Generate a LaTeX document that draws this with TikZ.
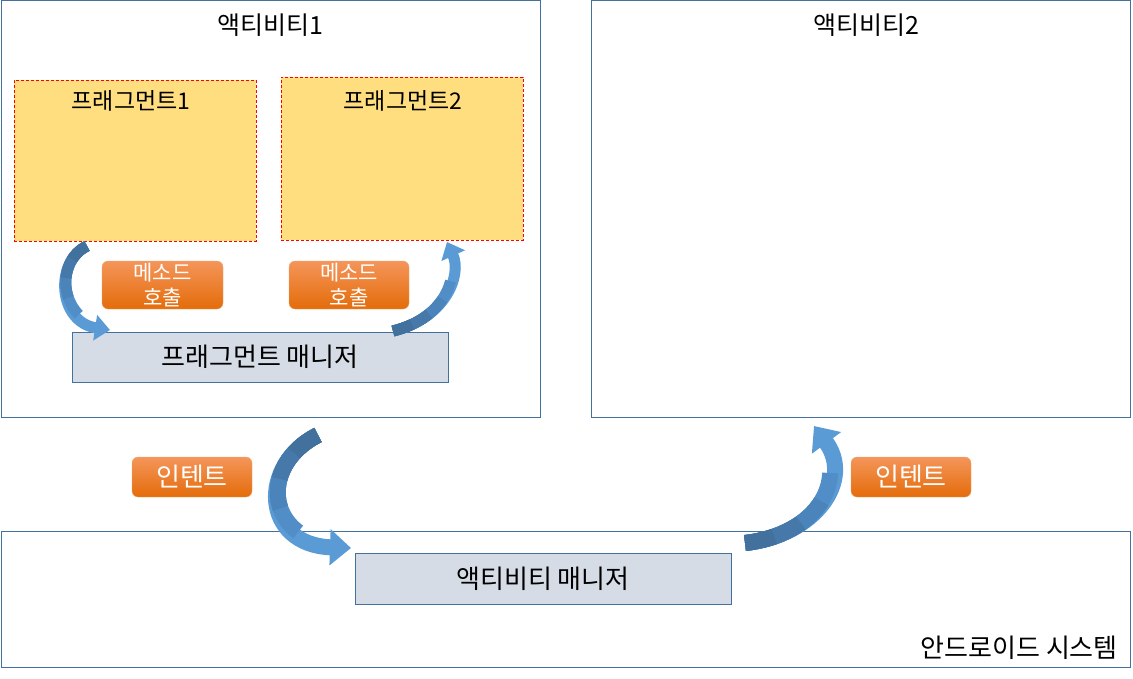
\documentclass[tikz,border=0pt]{standalone}
\usepackage{fontspec}
\setmainfont{Noto Sans CJK KR}
\usetikzlibrary{arrows.meta}
\definecolor{bordblue}{HTML}{41719C}
\definecolor{fragfill}{HTML}{FFDE80}
\definecolor{mgrfill}{HTML}{D6DCE5}
\definecolor{orTop}{HTML}{F4955A}
\definecolor{orBot}{HTML}{E46C0A}
\definecolor{arrA}{HTML}{41719C}
\definecolor{arrB}{HTML}{4679AA}
\definecolor{arrC}{HTML}{4B84BA}
\definecolor{arrD}{HTML}{518EC7}
\definecolor{arrE}{HTML}{5B9BD5}
\newcommand\fs[2]{\fontsize{#1}{#2}\selectfont}
\newcommand\barrow[8]{%
  \draw[line width=#5, arrE, -{Triangle[width=#6,length=#7]}] (#1) .. controls #2 and #3 .. (#4);
  \draw[line width=#5, arrD, dash pattern=on 0.8*#8 off 2000pt] (#1) .. controls #2 and #3 .. (#4);
  \draw[line width=#5, arrC, dash pattern=on 0.6*#8 off 2000pt] (#1) .. controls #2 and #3 .. (#4);
  \draw[line width=#5, arrB, dash pattern=on 0.4*#8 off 2000pt] (#1) .. controls #2 and #3 .. (#4);
  \draw[line width=#5, arrA, dash pattern=on 0.2*#8 off 2000pt] (#1) .. controls #2 and #3 .. (#4);
}
\tikzset{
  bigbox/.style={draw=bordblue, line width=0.9pt, fill=white, inner sep=0pt},
  fragbox/.style={draw=red, dash pattern=on 3pt off 2pt, line width=0.9pt, fill=fragfill, inner sep=0pt},
  mgrbox/.style={draw=bordblue, line width=0.9pt, fill=mgrfill, inner sep=0pt, font=\fs{26}{30}},
  orbox/.style={rounded corners=6pt, top color=orTop, bottom color=orBot, draw=orBot!60, line width=0.3pt, text=white, inner sep=0pt, align=center},
  ttl/.style={inner sep=0pt, font=\fs{25}{30}},
}
\begin{document}
\begin{tikzpicture}[x=1pt,y=-1pt]
\useasboundingbox (0,0) rectangle (1133,678);
% big containers
\node[bigbox, minimum width=539pt, minimum height=417pt] (act1) at (270.5,209) {};
\node[bigbox, minimum width=539pt, minimum height=417pt] (act2) at (860.5,209) {};
\node[bigbox, minimum width=1129pt, minimum height=136pt] (sys) at (565.5,599.5) {};
\node[ttl] (t1) at (270,25) {액티비티1};
\node[ttl] (t2) at (866,25) {액티비티2};
\node[ttl, anchor=east, font=\fs{26}{30}] (tsys) at (1118,648) {안드로이드 시스템};
% fragments
\node[fragbox, minimum width=242pt, minimum height=161pt] (frag1) at (135,160.5) {};
\node[fragbox, minimum width=242pt, minimum height=163pt] (frag2) at (402,158.5) {};
\node[ttl, font=\fs{23}{28}] (f1t) at (131,101) {프래그먼트1};
\node[ttl, font=\fs{23}{28}] (f2t) at (403,101) {프래그먼트2};
% managers
\node[mgrbox, minimum width=376pt, minimum height=50pt] (fmgr) at (260,357) {프래그먼트 매니저};
\node[mgrbox, minimum width=376pt, minimum height=51pt] (amgr) at (543,578.5) {액티비티 매니저};
% orange labels
\node[orbox, minimum width=121pt, minimum height=48pt, font=\fs{21}{25}] (call1) at (162.5,285) {메소드\\호출};
\node[orbox, minimum width=120pt, minimum height=48pt, font=\fs{21}{25}] (call2) at (349,285) {메소드\\호출};
\node[orbox, minimum width=120pt, minimum height=40pt, font=\fs{26}{30}] (int1) at (192,477) {인텐트};
\node[orbox, minimum width=120pt, minimum height=40pt, font=\fs{26}{30}] (int2) at (911,477) {인텐트};
% arrow endpoints
\coordinate (a1s) at (87,246);
\coordinate (a1e) at (110,330);
\coordinate (a2s) at (393,331);
\coordinate (a2e) at (447,242);
\coordinate (a3s) at (318,435);
\coordinate (a3e) at (351,548);
\coordinate (a4s) at (745,543);
\coordinate (a4e) at (814,426);
% curved block arrows
\barrow{a1s}{(54,262)}{(58,322)}{a1e}{11pt}{25pt}{15pt}{100pt}
\barrow{a2s}{(446,318)}{(462,275)}{a2e}{11pt}{25pt}{15pt}{100pt}
\barrow{a3s}{(258,465)}{(262,545)}{a3e}{16pt}{35pt}{21pt}{150pt}
\barrow{a4s}{(816,535)}{(854,480)}{a4e}{16pt}{35pt}{21pt}{150pt}
\end{tikzpicture}
\end{document}
